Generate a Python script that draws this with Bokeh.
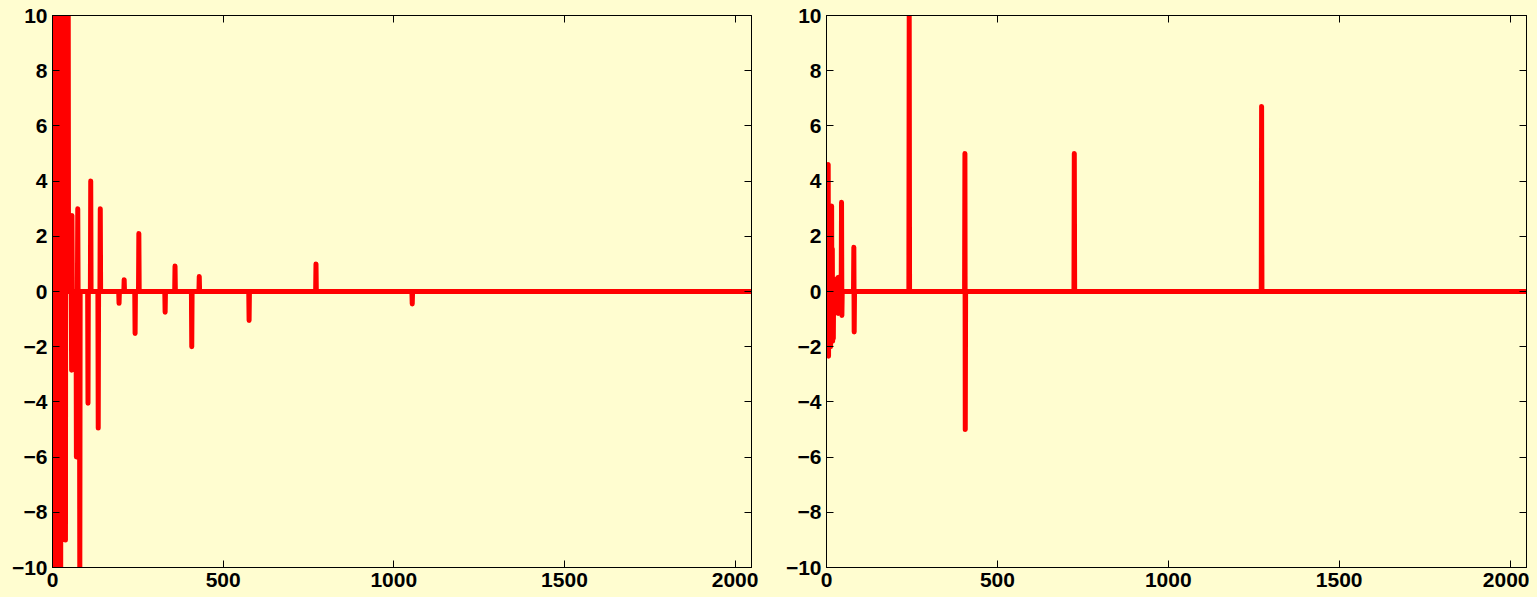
import numpy as np
from bokeh.plotting import figure
from bokeh.layouts import row
from bokeh.models import Range1d, LinearAxis, FixedTicker, ColumnDataSource
from bokeh.embed import file_html
from bokeh.resources import INLINE

N = 2048
x_ticks = [0, 500, 1000, 1500, 2000]
y_ticks = [-10, -8, -6, -4, -2, 0, 2, 4, 6, 8, 10]
y_tick_labels = {t: (("\u2212" + str(-t)) if t < 0 else str(t)) for t in y_ticks}

# Left panel: nonzero samples (index, value)
left_idx = [1, 2, 3, 4, 5, 6, 7, 8, 9, 10, 11, 12, 13, 14, 15, 16, 17, 18, 19, 20,
            21, 22, 23, 24, 25, 26, 27, 28, 29, 30, 31, 32, 33, 34, 35, 36, 37, 38,
            39, 40, 41, 42, 43, 44, 45, 46,
            56, 57, 70, 74, 80, 104, 112, 134, 140,
            195, 210, 242, 253, 330, 359, 408, 430, 576, 772, 1054]
left_val = [12, -25, 30, -14, 18, -20, 22, -12, 15, -18, 26, -13, 14, -16, 20, -11,
            13, -22, 17, -14, 12, -12, 16, -11, 13, 14, -3, 12, 15, -1.5, 18, 11, 13,
            6, 16, 12, 14, -9, 11, 15, 12, 8, 13, 11, 14, 12,
            -2.85, 2.75, -6.0, 3.0, -11, -4.05, 4.0, -4.95, 3.0,
            -0.43, 0.43, -1.52, 2.1, -0.75, 0.92, -2.0, 0.54, -1.05, 1.0, -0.45]

# Right panel: nonzero samples (index, value)
right_idx = [5, 6, 7, 8, 9, 10, 11, 12, 13, 14, 15, 16, 17, 18, 19, 20, 21, 22, 23,
             24, 25, 30, 31, 33, 34, 36, 37, 39, 40, 44, 45, 80, 81,
             242, 405, 406, 725, 1273]
right_val = [4.6, -2.35, 1.0, -1.2, 0.8, -1.5, 2.0, -2.0, 1.2, -1.0, 3.1, -1.6, 1.55,
             -1.8, 0.5, -1.7, 0.3, -0.6, 0.2, 0.3, -0.4, 0.4, -0.6, 0.5, -0.8, 0.52,
             -0.7, 0.3, -0.5, 3.23, -0.87, 1.6, -1.47,
             10.0, 5.0, -5.0, 5.0, 6.7]

BG = "#FFFDD0"
FONT = "Liberation Sans"


def make_panel(idx, val, width, border_left, border_right):
    y = np.zeros(N)
    y[np.array(idx)] = np.array(val)
    src = ColumnDataSource(dict(x=np.arange(N), y=y))
    p = figure(width=width, height=597, x_range=Range1d(0, 2048), y_range=Range1d(-10, 10),
               output_backend="svg", toolbar_location=None,
               min_border_left=border_left, min_border_right=border_right,
               min_border_top=15, min_border_bottom=30)
    p.background_fill_color = BG
    p.border_fill_color = BG
    p.outline_line_color = "black"
    p.outline_line_width = 1
    p.grid.visible = False
    p.line("x", "y", source=src, line_color="#FF0000", line_width=5,
           line_join="round", line_cap="round")

    for ax, ticks in ((p.xaxis[0], x_ticks), (p.yaxis[0], y_ticks)):
        ax.ticker = FixedTicker(ticks=ticks)
        ax.minor_tick_line_color = None
        ax.major_tick_in = 7
        ax.major_tick_out = 0
        ax.axis_line_color = "black"
        ax.major_tick_line_color = "black"
        ax.major_label_text_font = FONT
        ax.major_label_text_font_style = "bold"
        ax.major_label_text_font_size = "21px"
        ax.major_label_text_color = "black"
    p.yaxis[0].major_label_overrides = y_tick_labels
    p.yaxis[0].major_label_standoff = 5
    p.xaxis[0].major_label_standoff = 5

    # mirrored ticks on top and right (no labels)
    for loc, ticks in (("above", x_ticks), ("right", y_ticks)):
        ax = LinearAxis(ticker=FixedTicker(ticks=ticks))
        ax.minor_tick_line_color = None
        ax.major_tick_in = 7
        ax.major_tick_out = 0
        ax.major_label_overrides = {t: "" for t in ticks}
        ax.major_label_standoff = 0
        ax.axis_line_color = "black"
        p.add_layout(ax, loc)
    return p


p1 = make_panel(left_idx, left_val, 774, 44, 31)
p2 = make_panel(right_idx, right_val, 747, 44, 3)
layout = row(p1, p2)
layout.styles = {"background-color": BG}

html = file_html(layout, INLINE)
head, sep, body = html.rpartition("</head>")
body = body.replace("<body>", '<body style="background-color:%s; margin:0 0 0 8px; overflow:hidden">' % BG, 1)
html = head + sep + body
open("out.html", "w").write(html)
